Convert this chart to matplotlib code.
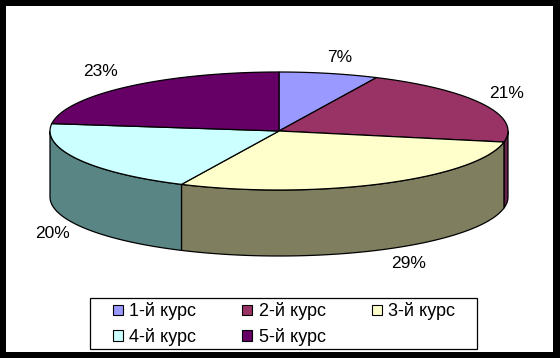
import numpy as np
import matplotlib
matplotlib.use("Agg")
import matplotlib.pyplot as plt
from matplotlib.patches import Polygon, Patch

# data
courses = ["1-й курс", "2-й курс", "3-й курс", "4-й курс", "5-й курс"]
shares = [7, 21, 29, 20, 23]
top_colors = ["#9999ff", "#993366", "#ffffcc", "#ccffff", "#660066"]
side_colors = ["#6666aa", "#66224a", "#7f7f60", "#5a8585", "#440044"]

# pie geometry, in pixels of the picture
CX, CY = 279, 131
RX, RY = 229, 59
DEPTH = 66

LABEL_POS = [(340, 57), (507, 94), (409, 263), (52, 234), (100, 72)]
# legend fills by column, the reference reads by row
LEGEND_ORDER = [0, 3, 1, 4, 2]


def rim(a0, a1, n=80):
    # angles are clockwise from 12 o'clock
    t = np.radians(np.linspace(a0, a1, n))
    return CX + RX * np.sin(t), CY - RY * np.cos(t)


plt.rcParams["font.family"] = ["Liberation Sans", "DejaVu Sans"]
fig = plt.figure(figsize=(5.6, 3.58), dpi=100, facecolor="black")
ax = fig.add_axes([6 / 560, 1 - 352 / 358, 547 / 560, 346 / 358])
ax.set_xlim(6, 553)
ax.set_ylim(352, 6)
ax.axis("off")
ax.add_patch(plt.Rectangle((6, 6), 547, 346, fc="white", ec="none", zorder=0))

edges = np.cumsum([0] + shares) * 3.6

# side wall: only the part of each slice facing the viewer
for i in range(len(shares)):
    a0, a1 = max(edges[i], 90), min(edges[i + 1], 270)
    if a0 >= a1:
        continue
    x, y = rim(a0, a1)
    pts = np.r_[np.c_[x, y], np.c_[x[::-1], y[::-1] + DEPTH]]
    ax.add_patch(Polygon(pts, fc=side_colors[i], ec="black", lw=0.9, zorder=2))

# top face
for i in range(len(shares)):
    x, y = rim(edges[i], edges[i + 1])
    pts = np.r_[[[CX, CY]], np.c_[x, y]]
    ax.add_patch(Polygon(pts, fc=top_colors[i], ec="black", lw=0.9, zorder=3))

for share, (lx, ly) in zip(shares, LABEL_POS):
    ax.text(lx, ly, f"{share}%", fontsize=12.5, ha="center", va="center", color="black")

# legend frame drawn apart, its padding differs in x and y
ax.add_patch(plt.Rectangle((90, 298), 387, 51, fc="white", ec="black", lw=0.9, zorder=4))
handles = [Patch(fc=top_colors[i], ec="black", lw=0.8) for i in LEGEND_ORDER]
labels = [courses[i] for i in LEGEND_ORDER]
fig.legend(
    handles,
    labels,
    ncol=3,
    loc="lower left",
    bbox_to_anchor=(113 / 560, 1 - 346 / 358),
    fontsize=13,
    frameon=False,
    handlelength=0.55,
    handleheight=0.55,
    handletextpad=0.35,
    columnspacing=2.55,
    labelspacing=0.42,
    borderpad=0,
    borderaxespad=0,
)

fig.savefig("out.png", dpi=100, facecolor=fig.get_facecolor())
